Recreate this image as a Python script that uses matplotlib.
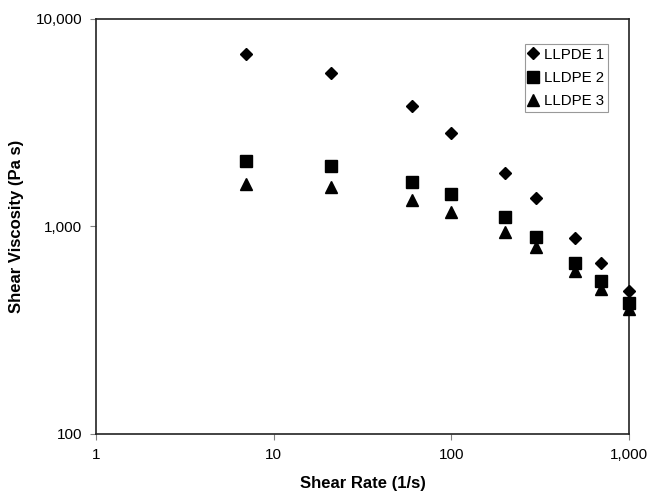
import numpy as np
import matplotlib
matplotlib.use("Agg")
import matplotlib.pyplot as plt
from matplotlib.ticker import FixedLocator, NullLocator

plt.rcParams['font.family'] = ['Liberation Sans', 'DejaVu Sans']

# shear rates (1/s)
shear_rate = [7, 21, 60, 100, 200, 300, 500, 700, 1000]

# viscosities (Pa s)
llpde_1 = [6780, 5490, 3810, 2830, 1805, 1372, 883, 665, 491]
lldpe_2 = [2075, 1958, 1638, 1429, 1114, 887, 669, 546, 430]
lldpe_3 = [1603, 1555, 1342, 1178, 944, 800, 612, 498, 399]

series_names = ['LLPDE 1', 'LLDPE 2', 'LLDPE 3']

x_ticks = [1, 10, 100, 1000]
x_labels = ['1', '10', '100', '1,000']
y_ticks = [100, 1000, 10000]
y_labels = ['100', '1,000', '10,000']

fig = plt.figure(figsize=(6.49, 4.93), dpi=100)
ax = fig.add_axes([0.148, 0.1197, 0.821, 0.8418])

# markers are not clipped at the right spine (as in the original)
ax.plot(shear_rate, llpde_1, linestyle='none', marker='D', markersize=6.5,
        color='black', label=series_names[0], clip_on=False, zorder=3)
ax.plot(shear_rate, lldpe_2, linestyle='none', marker='s', markersize=8.5,
        color='black', label=series_names[1], clip_on=False, zorder=3)
ax.plot(shear_rate, lldpe_3, linestyle='none', marker='^', markersize=8.5,
        color='black', label=series_names[2], clip_on=False, zorder=3)

ax.set_xscale('log')
ax.set_yscale('log')
ax.set_xlim(1, 1000)
ax.set_ylim(100, 10000)

ax.xaxis.set_major_locator(FixedLocator(x_ticks))
ax.xaxis.set_minor_locator(NullLocator())
ax.set_xticklabels(x_labels)
ax.yaxis.set_major_locator(FixedLocator(y_ticks))
ax.yaxis.set_minor_locator(NullLocator())
ax.set_yticklabels(y_labels)

ax.tick_params(axis='both', direction='out', length=4, width=0.8,
               color='#808080', labelsize=11, pad=6)

for s in ax.spines.values():
    s.set_linewidth(1.2)
    s.set_color('#222222')

ax.set_xlabel('Shear Rate (1/s)', fontsize=12, fontweight='bold', labelpad=10)
ax.set_ylabel('Shear Viscosity (Pa s)', fontsize=12, fontweight='bold', labelpad=8)

leg = ax.legend(loc='upper right', bbox_to_anchor=(0.96, 0.94), fontsize=10.8,
                frameon=True, fancybox=False, handlelength=0.6,
                handletextpad=0.4, borderpad=0.25, labelspacing=0.62,
                borderaxespad=0)
leg.get_frame().set_edgecolor('#808080')
leg.get_frame().set_linewidth(0.8)

fig.savefig('out.png', dpi=100)
